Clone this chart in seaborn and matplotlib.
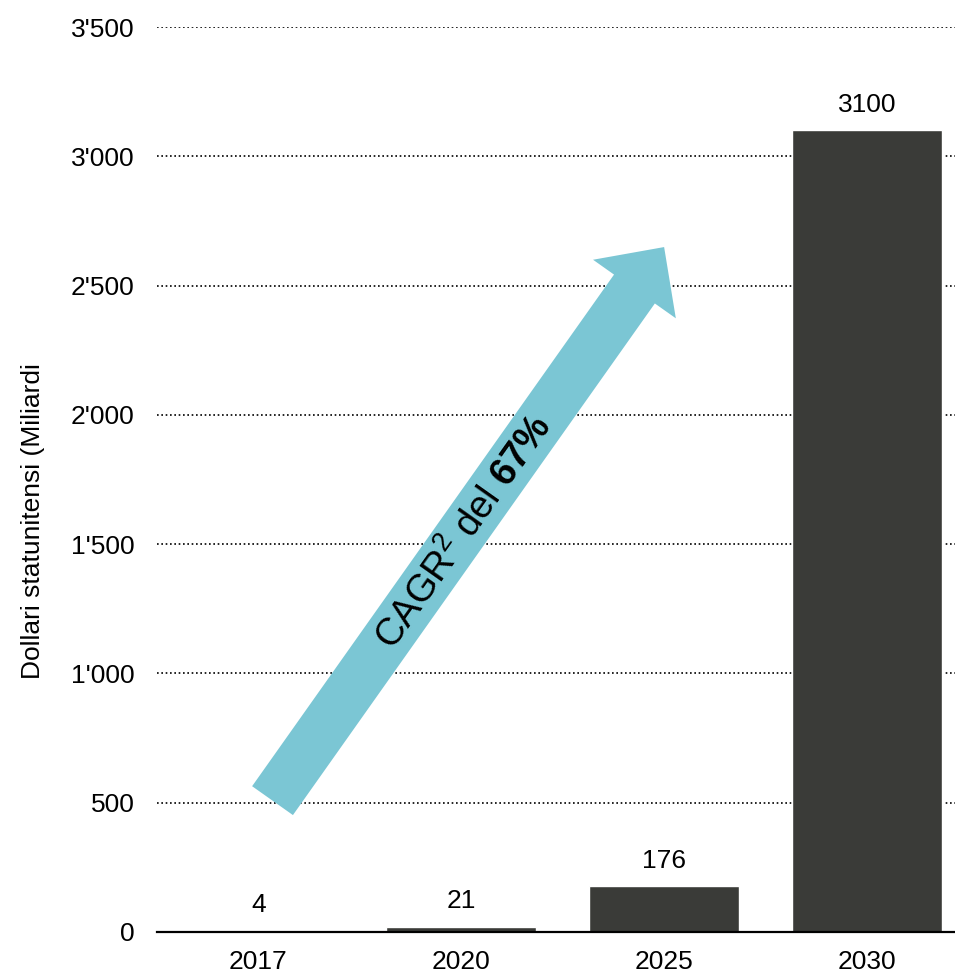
import matplotlib
matplotlib.use("Agg")
import matplotlib.pyplot as plt
import seaborn as sns
import pandas as pd
from matplotlib.patches import FancyArrowPatch, ArrowStyle
from matplotlib.ticker import FuncFormatter

sns.set_theme(style="white")
plt.rcParams['font.family'] = ['Liberation Sans', 'DejaVu Sans']
plt.rcParams['mathtext.fontset'] = 'custom'
plt.rcParams['mathtext.rm'] = 'Liberation Sans'
plt.rcParams['mathtext.bf'] = 'Liberation Sans:bold'
plt.rcParams['mathtext.it'] = 'Liberation Sans:italic'

# Data
years = ["2017", "2020", "2025", "2030"]
values = [4, 21, 176, 3100]
y_ticks = [0, 500, 1000, 1500, 2000, 2500, 3000, 3500]

bar_color = "#3a3b38"
arrow_color = "#7bc6d4"

df = pd.DataFrame({"year": years, "value": values})

fig = plt.figure(figsize=(9.55, 9.76), dpi=100)
ax = fig.add_axes([0.1644, 0.0451, 0.8356, 0.9272])

sns.barplot(data=df, x="year", y="value", color=bar_color, width=0.74,
            saturation=1, ax=ax)

ax.set_xlim(-0.5, 3.434)
ax.set_ylim(0, 3500)
ax.set_yticks(y_ticks)
ax.yaxis.set_major_formatter(FuncFormatter(lambda v, p: f"{int(v):,}".replace(",", "'")))

# dotted gridlines
ax.yaxis.grid(True, linestyle=(0, (1, 1.6)), color="black", linewidth=1.2)
ax.set_axisbelow(True)
for s in ["top", "right", "left"]:
    ax.spines[s].set_visible(False)
ax.spines["bottom"].set_color("black")
ax.spines["bottom"].set_linewidth(1.6)

ax.tick_params(axis="both", length=0, labelsize=19, colors="black")
ax.tick_params(axis="y", pad=16)
ax.tick_params(axis="x", pad=13)
ax.set_xlabel("")
ax.set_ylabel("Dollari statunitensi (Miliardi", fontsize=19, color="black")
ax.yaxis.set_label_coords(-0.14, 0.454)

# value labels
for i, v in enumerate(values):
    ax.annotate(str(v), xy=(i, v), xytext=(0, 10), textcoords="offset points",
                ha="center", va="bottom", fontsize=19, color="black")

# growth arrow
style = ArrowStyle.Simple(head_length=37, head_width=73, tail_width=36)
arrow = FancyArrowPatch((0.0695, 508), (2.0, 2649), arrowstyle=style,
                        mutation_scale=1, shrinkA=0, shrinkB=0,
                        color=arrow_color, linewidth=0, zorder=3)
ax.add_patch(arrow)

ax.text(1.014, 1543, r"CAGR$^{2}$ del $\mathbf{67\%}$", rotation=54.7,
        rotation_mode="anchor", ha="center", va="center", fontsize=27.5,
        color="black", zorder=4)

fig.savefig("out.png", dpi=100)
